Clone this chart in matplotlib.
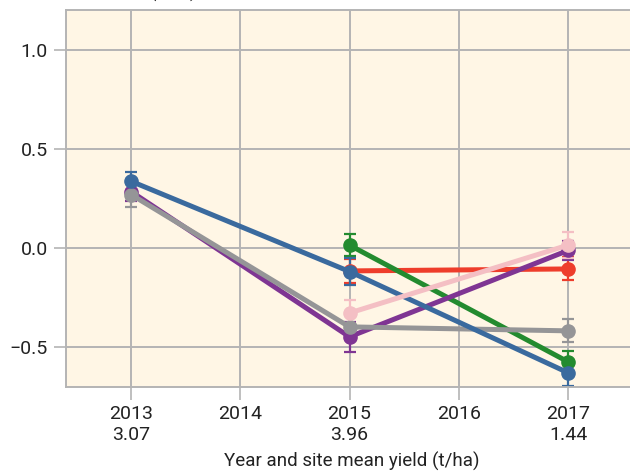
import numpy as np
import matplotlib.pyplot as plt

plt.rcParams['font.family'] = ['Roboto', 'DejaVu Sans']

# x positions and tick labels
tick_years = [2013, 2014, 2015, 2016, 2017]
tick_labels = ['2013\n3.07', '2014', '2015\n3.96', '2016', '2017\n1.44']

# series: years, means, errors
red_x = [2015, 2017]
red_y = [-0.115, -0.105]
red_e = [0.06, 0.058]

green_x = [2015, 2017]
green_y = [0.015, -0.573]
green_e = [0.055, 0.055]

purple_x = [2013, 2015, 2017]
purple_y = [0.285, -0.447, -0.012]
purple_e = [0.05, 0.075, 0.05]

gray_x = [2013, 2015, 2017]
gray_y = [0.27, -0.397, -0.417]
gray_e = [0.065, 0.06, 0.058]

blue_x = [2013, 2015, 2017]
blue_y = [0.337, -0.118, -0.628]
blue_e = [0.045, 0.07, 0.065]

pink_x = [2015, 2017]
pink_y = [-0.327, 0.015]
pink_e = [0.065, 0.065]

series = [
    (red_x, red_y, red_e, '#ee3d2b'),
    (green_x, green_y, green_e, '#238b2f'),
    (purple_x, purple_y, purple_e, '#7f3593'),
    (gray_x, gray_y, gray_e, '#959597'),
    (blue_x, blue_y, blue_e, '#3a6a9e'),
    (pink_x, pink_y, pink_e, '#f4bfc4'),
]

fig = plt.figure(figsize=(6.3, 4.75), dpi=100)
ax = fig.add_axes([66 / 630, 88 / 475, 1.0, 377 / 475])
ax.set_facecolor('#fff6e5')

for x, y, e, c in series:
    ax.errorbar(x, y, yerr=e, color=c, lw=3.6, marker='o', ms=9.5,
                elinewidth=1.6, capsize=4.5, capthick=1.6)

ax.set_xlim(2012.405, 2013 + (66 + 630 - 131) / 109.25)
ax.set_ylim(-0.7, 1.2)
ax.set_xticks(tick_years)
ax.set_xticklabels(tick_labels)
ax.set_yticks([-0.5, 0.0, 0.5, 1.0])
ax.set_yticklabels(['\u22120.5', '0.0', '0.5', '1.0'])
ax.grid(True, color='#b4b4b4', lw=1.4)
ax.set_axisbelow(True)
for s in ax.spines.values():
    s.set_color('#b4b4b4')
    s.set_linewidth(1.4)
ax.tick_params(axis='both', color='#b4b4b4', labelcolor='#222222',
               labelsize=14, length=9, width=1.2, pad=4)
ax.set_xlabel('Year and site mean yield (t/ha)', fontsize=13.5, color='#222222')
ax.xaxis.set_label_coords(286 / 630, -0.172)

fig.text(173 / 630, 1.004, '(t/ha)', ha='center', va='baseline', fontsize=13.5, color='#222222')

fig.savefig('out.png', dpi=100)
